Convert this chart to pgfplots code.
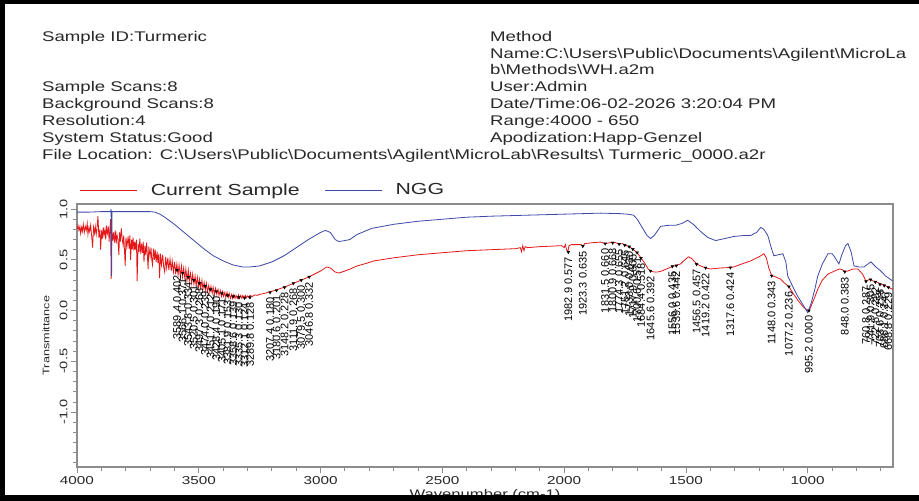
\documentclass[border=0pt]{standalone}
\usepackage{pgfplots}
\pgfplotsset{compat=1.18}
\usepackage{fontspec}
\setmainfont{Liberation Sans}[FakeStretch=1.33]
\newfontfamily\labfont{Liberation Sans}
\definecolor{spred}{RGB}{228,24,24}
\definecolor{ngg}{RGB}{62,72,168}
\definecolor{axgray}{RGB}{140,140,140}
\definecolor{txt}{RGB}{40,40,40}
\begin{document}
\begin{tikzpicture}[x=1pt,y=1pt]
\path[use as bounding box] (0,0) rectangle (919,501);
\fill[white] (0,0) rectangle (919,501);
\begin{scope}[every node/.style={anchor=base west, inner sep=0pt, text=txt, font=\fontsize{14}{16}\selectfont}]
\node at (42,459) {Sample ID:Turmeric};
\node at (42,409) {Sample Scans:8};
\node at (42,392) {Background Scans:8};
\node at (42,375) {Resolution:4};
\node at (42,358) {System Status:Good};
\node at (42,341) {File Location: C:\textbackslash Users\textbackslash Public\textbackslash Documents\textbackslash Agilent\textbackslash MicroLab\textbackslash Results\textbackslash\ Turmeric\_0000.a2r};
\node at (490,459) {Method};
\node at (490,442) {Name:C:\textbackslash Users\textbackslash Public\textbackslash Documents\textbackslash Agilent\textbackslash MicroLa};
\node at (490,426) {b\textbackslash Methods\textbackslash WH.a2m};
\node at (490,409) {User:Admin};
\node at (490,392) {Date/Time:06-02-2026 3:20:04 PM};
\node at (490,375) {Range:4000 - 650};
\node at (490,358) {Apodization:Happ-Genzel};
\end{scope}
\begin{axis}[
  at={(77pt,34pt)}, anchor=south west, scale only axis,
  width=816pt, height=263pt,
  x dir=reverse, xmin=650, xmax=4000, ymin=-1.54, ymax=1.05,
  axis line style={axgray, line width=1.2pt},
  tick style={axgray, line width=0.9pt},
  tick align=outside, xtick pos=bottom, ytick pos=left,
  major tick length=6pt, minor tick length=4pt,
  xtick={1000,1500,...,4000}, minor xtick={700,800,...,3900},
  ytick={-1,-0.5,0,0.5,1}, minor ytick={-1.5,-1.4,...,1.0},
  /pgf/number format/assume math mode=true,
  /pgf/number format/1000 sep={},
  xticklabel style={font=\fontsize{11.5}{12}\selectfont, text=txt},
  yticklabel style={font=\fontsize{11}{12}\selectfont, text=txt, rotate=90, anchor=south,
    /pgf/number format/fixed, /pgf/number format/fixed zerofill, /pgf/number format/precision=1},
  xlabel={Wavenumber (cm-1)},
  xlabel style={at={(axis description cs:0.5,0)}, anchor=base, yshift=-31pt, font=\fontsize{12.5}{14}\selectfont, text=txt},
  ylabel={Transmittance},
  ylabel style={at={(axis description cs:-0.038,0.5)}, anchor=center, font=\fontsize{9.5}{11}\selectfont, text=txt},
  legend columns=2,
  legend image code/.code={\draw[#1] (0pt,0pt) -- (57pt,0pt);},
  legend style={at={(axis description cs:0.0037,1.053)}, anchor=west, draw=none, fill=none,
    inner sep=0pt, outer sep=0pt, font=\fontsize{16}{18}\selectfont, text=txt,
    nodes={inner sep=0pt},
    /tikz/every odd column/.append style={column sep=13pt},
    /tikz/every even column/.append style={column sep=25pt}},
]
\addplot[spred, line width=0.8pt] table {
4000 0.80
3996 0.84
3992 0.79
3988 0.83
3985 0.76
3981 0.82
3978 0.78
3974 0.85
3970 0.77
3966 0.83
3962 0.79
3958 0.86
3955 0.75
3951 0.82
3948 0.78
3944 0.84
3940 0.74
3936 0.62
3932 0.82
3928 0.76
3925 0.83
3921 0.75
3918 0.81
3914 0.93
3910 0.72
3906 0.80
3903 0.60
3899 0.79
3896 0.71
3892 0.82
3889 0.74
3885 0.80
3882 0.70
3878 0.84
3875 0.76
3871 0.81
3868 0.68
3865 0.80
3862 0.90
3860 0.31
3857 0.78
3853 0.69
3850 0.77
3846 0.67
3843 0.79
3839 0.66
3836 0.75
3832 0.70
3828 0.55
3825 0.77
3822 0.68
3818 0.81
3815 0.72
3811 0.65
3808 0.74
3802 0.44
3799 0.72
3795 0.63
3790 0.73
3786 0.61
3783 0.74
3780 0.50
3776 0.70
3773 0.60
3770 0.72
3766 0.59
3763 0.68
3760 0.60
3756 0.70
3753 0.29
3749 0.66
3745 0.58
3742 0.71
3738 0.56
3735 0.66
3731 0.57
3728 0.68
3725 0.48
3721 0.64
3718 0.55
3714 0.67
3711 0.54
3708 0.41
3705 0.63
3700 0.53
3696 0.62
3693 0.50
3690 0.45
3686 0.61
3682 0.50
3679 0.60
3675 0.48
3671 0.58
3668 0.47
3664 0.56
3661 0.32
3657 0.56
3653 0.45
3648 0.55
3644 0.43
3640 0.38
3636 0.53
3632 0.42
3627 0.52
3623 0.40
3618 0.51
3613 0.39
3609 0.49
3604 0.38
3599 0.48
3595 0.36
3590 0.46
3585 0.35
3581 0.45
3576 0.34
3571 0.44
3567 0.33
3562 0.42
3557 0.31
3553 0.41
3548 0.30
3543 0.40
3539 0.29
3534 0.37
3529 0.27
3525 0.36
3520 0.26
3515 0.34
3511 0.24
3506 0.33
3501 0.23
3497 0.31
3492 0.22
3487 0.30
3483 0.21
3478 0.28
3473 0.20
3469 0.27
3464 0.19
3459 0.25
3455 0.18
3450 0.24
3445 0.17
3441 0.23
3436 0.16
3431 0.22
3426 0.16
3421 0.21
3417 0.15
3412 0.20
3407 0.14
3403 0.19
3398 0.14
3393 0.18
3389 0.13
3384 0.18
3379 0.13
3375 0.17
3370 0.12
3365 0.16
3361 0.12
3356 0.16
3351 0.12
3347 0.15
3342 0.12
3337 0.155
3333 0.12
3328 0.15
3323 0.12
3319 0.15
3314 0.125
3309 0.15
3305 0.125
3300 0.145
3295 0.13
3290 0.15
3280 0.14
3270 0.155
3260 0.15
3250 0.16
3230 0.17
3200 0.19
3150 0.23
3100 0.28
3050 0.33
3000 0.39
2975 0.43
2960 0.42
2940 0.38
2925 0.37
2900 0.39
2878 0.41
2850 0.44
2820 0.46
2780 0.49
2700 0.52
2600 0.55
2500 0.57
2400 0.59
2300 0.60
2200 0.61
2180 0.62
2175 0.58
2170 0.64
2165 0.59
2160 0.63
2150 0.62
2100 0.63
2050 0.635
2010 0.64
2000 0.62
1995 0.65
1990 0.60
1985 0.58
1980 0.64
1970 0.65
1950 0.65
1930 0.65
1923 0.635
1915 0.66
1880 0.67
1850 0.675
1831 0.66
1810 0.67
1790 0.67
1774 0.655
1760 0.66
1750 0.645
1733 0.63
1718 0.605
1700 0.57
1685 0.52
1670 0.47
1655 0.41
1645 0.39
1630 0.38
1616 0.38
1600 0.39
1580 0.41
1556 0.435
1540 0.445
1522 0.46
1505 0.50
1489 0.53
1475 0.51
1456 0.46
1440 0.44
1419 0.42
1400 0.41
1380 0.415
1357 0.42
1317 0.425
1304 0.43
1270 0.46
1234 0.49
1200 0.53
1180 0.56
1170 0.52
1160 0.42
1148 0.345
1130 0.33
1111 0.31
1095 0.27
1077 0.235
1060 0.17
1040 0.10
1020 0.04
1005 0.01
995 0.00
985 0.05
970 0.14
959 0.21
940 0.30
917 0.36
890 0.39
870 0.41
860 0.405
848 0.385
835 0.39
815 0.41
794 0.41
775 0.36
761 0.29
745 0.31
730 0.29
715 0.28
700 0.26
685 0.25
670 0.23
650 0.21
};
\addlegendentry{Current Sample}
\addplot[ngg, line width=0.8pt] table {
4000 0.97
3950 0.97
3900 0.975
3862 0.975
3860 1.00
3858 0.34
3856 0.975
3800 0.975
3750 0.975
3700 0.975
3680 0.97
3660 0.95
3640 0.92
3600 0.85
3560 0.77
3520 0.69
3480 0.61
3440 0.54
3400 0.49
3360 0.45
3320 0.43
3290 0.43
3250 0.44
3200 0.48
3150 0.54
3100 0.62
3050 0.70
3000 0.77
2980 0.79
2960 0.77
2940 0.70
2925 0.68
2900 0.69
2880 0.70
2850 0.75
2820 0.78
2790 0.81
2700 0.85
2600 0.88
2500 0.90
2400 0.92
2300 0.93
2150 0.94
2000 0.95
1850 0.96
1770 0.955
1740 0.95
1715 0.94
1700 0.90
1680 0.82
1660 0.74
1645 0.71
1630 0.74
1604 0.83
1570 0.84
1542 0.84
1515 0.86
1493 0.89
1470 0.85
1440 0.78
1410 0.72
1378 0.69
1340 0.71
1304 0.73
1260 0.74
1234 0.74
1210 0.77
1193 0.82
1180 0.80
1164 0.74
1150 0.62
1139 0.54
1120 0.55
1102 0.56
1090 0.48
1082 0.34
1060 0.23
1041 0.14
1020 0.06
1000 -0.02
985 0.08
970 0.22
959 0.34
940 0.46
917 0.56
900 0.56
893 0.54
872 0.46
860 0.55
845 0.64
835 0.66
822 0.58
810 0.44
790 0.43
769 0.43
741 0.48
720 0.43
700 0.39
680 0.34
650 0.29
};
\addlegendentry{NGG}
\addplot[only marks, mark=triangle*, mark size=1.6pt, black, forget plot,
  every mark/.append style={rotate=180},
  point meta=explicit symbolic, nodes near coords,
  nodes near coords align={anchor=east},
  every node near coord/.append style={rotate=90, xshift=-5pt, inner sep=0pt,
    font=\labfont\fontsize{11}{12}\selectfont, text=black}]
  table[col sep=comma, row sep=\\, meta=lab] {
x,y,lab\\
3589.4,0.40,3589.4 0.402\\
3566.1,0.37,3566.1 0.371\\
3543.8,0.33,3543.8 0.334\\
3520.5,0.30,3520.5 0.301\\
3497.3,0.27,3497.3 0.268\\
3474.0,0.24,3474.0 0.239\\
3451.7,0.21,3451.7 0.212\\
3428.4,0.19,3428.4 0.190\\
3405.1,0.17,3405.1 0.171\\
3381.9,0.15,3381.9 0.153\\
3358.6,0.14,3358.6 0.139\\
3335.3,0.13,3335.3 0.130\\
3312.1,0.125,3312.1 0.124\\
3289.8,0.13,3289.8 0.128\\
3207.4,0.18,3207.4 0.180\\
3180.6,0.20,3180.6 0.201\\
3148.2,0.228,3148.2 0.228\\
3111.9,0.268,3111.9 0.268\\
3079.5,0.30,3079.5 0.300\\
3046.8,0.332,3046.8 0.332\\
1982.9,0.577,1982.9 0.577\\
1923.3,0.635,1923.3 0.635\\
1831.5,0.660,1831.5 0.660\\
1800.9,0.668,1800.9 0.668\\
1774.3,0.655,1774.3 0.655\\
1751.2,0.645,1751.2 0.645\\
1733.0,0.630,1733.0 0.630\\
1717.9,0.605,1717.9 0.605\\
1700.6,0.571,1700.6 0.571\\
1684.4,0.518,1684.4 0.518\\
1645.6,0.392,1645.6 0.392\\
1556.0,0.435,1556.0 0.435\\
1539.6,0.442,1539.6 0.442\\
1456.5,0.457,1456.5 0.457\\
1419.2,0.422,1419.2 0.422\\
1317.6,0.424,1317.6 0.424\\
1148.0,0.343,1148.0 0.343\\
1077.2,0.236,1077.2 0.236\\
995.2,0.000,995.2 0.000\\
848.0,0.383,848.0 0.383\\
760.8,0.287,760.8 0.287\\
741.9,0.305,741.9 0.305\\
722.5,0.282,722.5 0.282\\
703.6,0.258,703.6 0.258\\
686.1,0.247,686.1 0.247\\
668.8,0.229,668.8 0.229\\
};
\end{axis}
\fill[black] (0,0) rectangle (919,6);
\fill[black] (0,497) rectangle (919,501);
\fill[black] (0,0) rectangle (4.5,501);
\end{tikzpicture}
\end{document}
